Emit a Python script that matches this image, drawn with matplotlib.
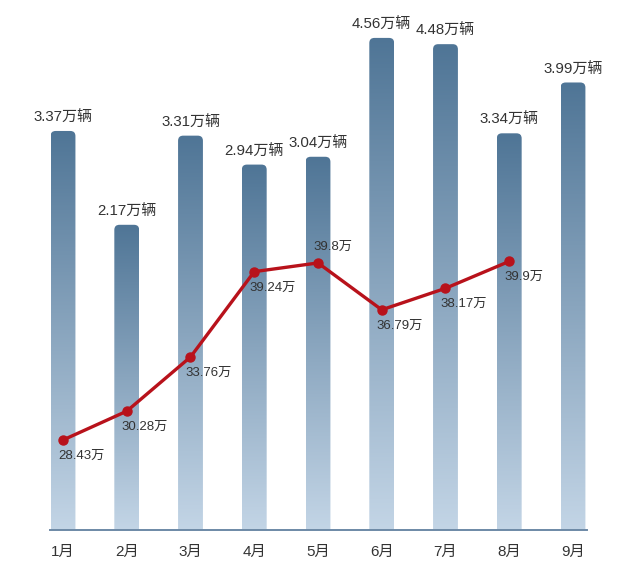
import numpy as np
import matplotlib
matplotlib.use("Agg")
import matplotlib.pyplot as plt
from matplotlib.patches import FancyBboxPatch
from matplotlib.colors import LinearSegmentedColormap

plt.rcParams['font.family'] = ['Liberation Sans', 'Noto Sans CJK SC', 'DejaVu Sans']

months = ['1月', '2月', '3月', '4月', '5月', '6月', '7月', '8月', '9月']
sales = [3.37, 2.17, 3.31, 2.94, 3.04, 4.56, 4.48, 3.34, 3.99]          # 万辆
share_months = ['1月', '2月', '3月', '4月', '5月', '6月', '7月', '8月']
line_vals = [28.43, 30.28, 33.76, 39.24, 39.8, 36.79, 38.17, 39.9]       # 万

W, H = 640, 578
fig = plt.figure(figsize=(W / 100, H / 100), dpi=100)
left_px, right_px, bot_px, top_px = 50, 587, 530, 20
ax = fig.add_axes([left_px / W, (H - bot_px) / H, (right_px - left_px) / W, (bot_px - top_px) / H])

x = np.arange(len(months))
ymin, ymax = -1.733, 4.789

cmap = LinearSegmentedColormap.from_list('g', ['#c3d5e6', '#4f7596'])
bw = 0.39
grad = np.linspace(0, 1, 256).reshape(-1, 1)
for xi, v in zip(x, sales):
    bottom = ymin - 0.3
    patch = FancyBboxPatch((xi - bw / 2, bottom), bw, v - bottom,
                           boxstyle="round,pad=0,rounding_size=0.08",
                           mutation_aspect=0.815, linewidth=0, facecolor='none',
                           transform=ax.transData)
    ax.add_patch(patch)
    im = ax.imshow(grad, extent=(xi - bw / 2, xi + bw / 2, ymin, v), origin='lower',
                   cmap=cmap, aspect='auto', zorder=2)
    im.set_clip_path(patch)
    ax.annotate(f'{v:.2f}万辆', (xi, v), xytext=(0, 6), textcoords='offset pixels',
                ha='center', va='bottom', fontsize=10.8, color='#333333', zorder=5)

ax.set_xlim(-0.204, 8.22)
ax.set_ylim(ymin, ymax)

for s in ['top', 'right', 'left']:
    ax.spines[s].set_visible(False)
ax.spines['bottom'].set_color('#6d89a6')
ax.spines['bottom'].set_linewidth(1.4)
ax.spines['bottom'].set_zorder(6)
ax.set_yticks([])
ax.set_xticks(x)
ax.set_xticklabels(months, fontsize=11, color='#333333')
ax.tick_params(axis='x', length=0, pad=11)

ax2 = ax.twinx()
ax2.set_ylim(22.65, 55.40)
ax2.set_axis_off()
lx = [months.index(m) for m in share_months]
ax2.plot(lx, line_vals, color='#b8121b', linewidth=2.4, marker='o', markersize=6.5, zorder=4)
for i, (xi, v) in enumerate(zip(lx, line_vals)):
    label = f'{v:g}万'
    dy = 16 if i == 4 else -16
    ax2.annotate(label, (xi, v), xytext=(-5, dy), textcoords='offset pixels',
                 ha='left', va='center', fontsize=9.5, color='#333333', zorder=5)

fig.savefig('out.png', dpi=100, facecolor='white')
